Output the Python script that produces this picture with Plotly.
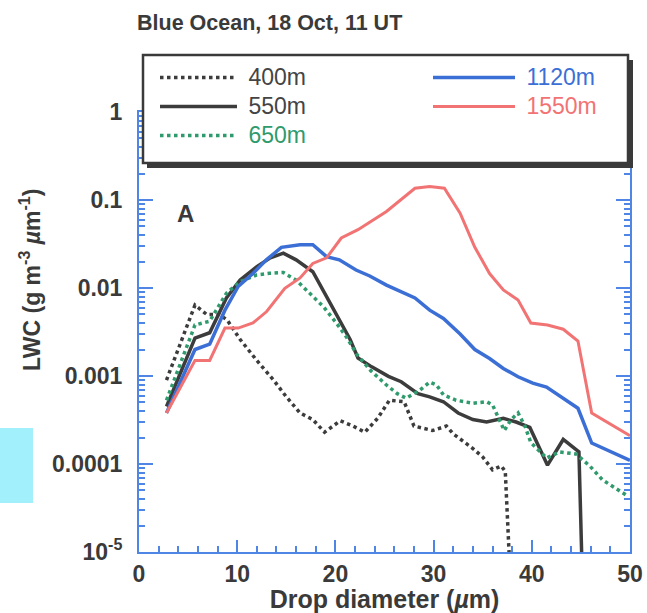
import plotly.graph_objects as go

# ---- data ----
x_400 = [2.8, 5.7, 6.9, 8.2, 9.0, 10.3, 12.0, 13.7, 15.0, 16.4, 17.7, 18.9, 20.5, 21.8, 23.0, 24.3, 25.5,
         27.0, 28.0, 29.9, 31.3, 32.0, 34.0, 35.0, 36.0, 36.9, 37.3, 37.9]
y_400 = [9e-4, 6.4e-3, 5.0e-3, 5.0e-3, 4.3e-3, 2.6e-3, 1.5e-3, 9e-4, 5.8e-4, 3.8e-4, 3.2e-4, 2.3e-4, 3.1e-4,
         2.7e-4, 2.3e-4, 3.3e-4, 5.3e-4, 5.1e-4, 2.7e-4, 2.4e-4, 2.7e-4, 2.2e-4, 1.5e-4, 1.2e-4, 8.6e-5,
         9.5e-5, 8.2e-5, 3e-6]

x_550 = [2.8, 5.7, 7.2, 8.9, 10.3, 12.0, 13.3, 14.7, 16.0, 17.7, 19.1, 20.4, 21.5, 22.3, 23.7, 25.4, 26.7,
         28.4, 29.6, 31.0, 32.5, 34.0, 35.4, 37.1, 38.4, 39.8, 41.6, 43.2, 44.8, 45.2]
y_550 = [4.5e-4, 2.7e-3, 3.1e-3, 7.7e-3, 0.0123, 0.0175, 0.0218, 0.0249, 0.0209, 0.0153, 0.0080, 0.0043,
         0.0026, 1.6e-3, 1.27e-3, 9.9e-4, 8.6e-4, 6.3e-4, 5.8e-4, 5.1e-4, 3.8e-4, 3.2e-4, 3.0e-4, 3.3e-4,
         3.0e-4, 2.6e-4, 9.7e-5, 1.9e-4, 1.37e-4, 3e-6]

x_650 = [2.8, 5.7, 7.2, 8.9, 10.3, 12.0, 13.3, 14.7, 16.0, 17.4, 18.8, 20.1, 21.1, 22.2, 23.6, 25.2, 26.3,
         27.2, 28.6, 29.6, 30.3, 31.0, 32.3, 34.0, 35.4, 36.0, 36.6, 37.2, 37.9, 38.6, 39.3, 39.9, 41.5,
         42.8, 44.5, 45.9, 47.2, 48.6, 49.8]
y_650 = [5.3e-4, 3.8e-3, 4.2e-3, 8.7e-3, 0.0118, 0.0141, 0.0147, 0.0150, 0.0123, 8.7e-3, 6.1e-3, 4.0e-3,
         2.8e-3, 1.75e-3, 1.15e-3, 7.9e-4, 6.3e-4, 5.6e-4, 6.9e-4, 8.5e-4, 7.9e-4, 6.1e-4, 5.3e-4, 4.9e-4,
         5.1e-4, 4.7e-4, 3.3e-4, 2.4e-4, 3.2e-4, 3.8e-4, 2.7e-4, 1.75e-4, 1.17e-4, 1.37e-4, 1.3e-4, 9.5e-5,
         6.6e-5, 5.2e-5, 4.3e-5]

x_1120 = [2.8, 5.7, 7.2, 8.75, 10.1, 11.6, 13.0, 14.5, 16.4, 17.7, 19.1, 20.4, 22.1, 23.5, 25.2, 26.6, 28.1,
          29.6, 31.0, 32.7, 34.2, 35.7, 37.1, 38.6, 40.1, 41.5, 43.2, 44.7, 46.1, 50.0]
y_1120 = [3.8e-4, 2.0e-3, 2.3e-3, 5.6e-3, 0.0104, 0.0146, 0.021, 0.029, 0.031, 0.031, 0.0227, 0.0209, 0.016,
          0.0137, 0.0108, 0.0091, 0.0077, 0.0056, 0.0045, 0.0030, 0.0020, 0.00158, 0.00122, 0.00098, 8.3e-4,
          7.5e-4, 5.6e-4, 4.3e-4, 1.73e-4, 1.1e-4]

x_1550 = [2.8, 5.7, 7.2, 8.75, 10.1, 11.6, 13.0, 14.85, 16.4, 17.7, 19.1, 20.6, 22.3, 25.2, 28.1, 29.6, 31.1,
          32.7, 34.2, 35.7, 37.1, 38.6, 39.9, 41.6, 43.2, 44.7, 46.1, 50.0]
y_1550 = [3.8e-4, 1.5e-3, 1.5e-3, 3.5e-3, 3.5e-3, 4.0e-3, 5.4e-3, 9.9e-3, 0.013, 0.019, 0.022, 0.037, 0.046,
          0.074, 0.136, 0.142, 0.136, 0.071, 0.029, 0.0146, 0.0095, 0.0073, 0.0040, 0.0038, 0.0034, 0.0025,
          3.8e-4, 2.1e-4]

y_tickvals = [1e-5, 1e-4, 1e-3, 1e-2, 1e-1, 1]
y_ticktext = ["10<sup>-5</sup>", "0.0001", "0.001", "0.01", "0.1", "1"]

# ---- styling ----
AX = "#4f86e6"
TXT = "#3a3a3a"
C_BLK = "#3c3c3c"
C_GRN = "#2f9a6c"
C_BLU = "#3b6fd6"
C_RED = "#f27373"
FONT = "Liberation Sans, Arial, sans-serif"

W, H = 647, 613
L, R, T, B = 139, 17, 112, 61
PW, PH = W - L - R, H - T - B


def px_to_paper(x, y):
    return (x - L) / PW, (H - B - y) / PH


def lname(txt, col):
    return '<span style="color:%s;font-size:23px">&nbsp;%s</span>' % (col, txt)


fig = go.Figure()
fig.add_trace(go.Scatter(x=x_400, y=y_400, mode="lines", name=lname("400m", "#444"),
                         line=dict(color=C_BLK, width=3.5, dash="dot"), legend="legend"))
fig.add_trace(go.Scatter(x=x_550, y=y_550, mode="lines", name=lname("550m", "#444"),
                         line=dict(color=C_BLK, width=3.5), legend="legend"))
fig.add_trace(go.Scatter(x=x_650, y=y_650, mode="lines", name=lname("650m", C_GRN),
                         line=dict(color=C_GRN, width=3.5, dash="dot"), legend="legend"))
fig.add_trace(go.Scatter(x=x_1120, y=y_1120, mode="lines", name=lname("1120m", C_BLU),
                         line=dict(color=C_BLU, width=3.5), legend="legend2"))
fig.add_trace(go.Scatter(x=x_1550, y=y_1550, mode="lines", name=lname("1550m", C_RED),
                         line=dict(color=C_RED, width=3), legend="legend2"))

minor_y = [k * 10.0 ** e for e in range(-5, 0) for k in range(2, 10)]

fig.update_xaxes(range=[0, 50], showgrid=False, zeroline=False, showline=True, linecolor=AX, linewidth=2,
                 mirror="ticks", ticks="inside", ticklen=12, tickwidth=2, tickcolor=AX, dtick=10, tick0=0,
                 tickfont=dict(family=FONT, size=23, color=TXT, weight="bold"),
                 minor=dict(dtick=2, tick0=0, ticks="inside", ticklen=6, tickwidth=1.5, tickcolor=AX),
                 title=dict(text="Drop diameter (<i>µ</i>m)", font=dict(family=FONT, size=25, color=TXT, weight="bold"),
                            standoff=4))
fig.update_yaxes(type="log", range=[-5, 0], showgrid=False, zeroline=False, showline=True, linecolor=AX,
                 linewidth=2, mirror="ticks", ticks="inside", ticklen=14, tickwidth=2, tickcolor=AX,
                 tickmode="array", tickvals=y_tickvals, ticktext=y_ticktext,
                 tickfont=dict(family=FONT, size=23, color=TXT, weight="bold"), ticklabelstandoff=10,
                 minor=dict(tickmode="array", tickvals=minor_y, ticks="inside", ticklen=6, tickwidth=1.5,
                            tickcolor=AX))

# legend box with shadow
bx0, by0 = px_to_paper(143, 163)
bx1, by1 = px_to_paper(628, 55)
sx0, sy0 = px_to_paper(147, 168)
sx1, sy1 = px_to_paper(633, 60)
cx0, cy0 = px_to_paper(0, 503)
cx1, cy1 = px_to_paper(33, 428)
fig.update_layout(shapes=[
    dict(type="rect", xref="paper", yref="paper", x0=sx0, y0=sy0, x1=sx1, y1=sy1,
         fillcolor="#3a3a3a", line=dict(width=0), layer="above"),
    dict(type="rect", xref="paper", yref="paper", x0=bx0, y0=by0, x1=bx1, y1=by1,
         fillcolor="white", line=dict(color="#3a3a3a", width=2.5), layer="above"),
    dict(type="rect", xref="paper", yref="paper", x0=cx0, y0=cy0, x1=cx1, y1=cy1,
         fillcolor="#a2f0fc", line=dict(width=0), layer="above"),
])

lx1, ly1 = px_to_paper(155, 58)
lx2, ly2 = px_to_paper(428, 58)
ytx, yty = px_to_paper(30, 280)
fig.update_layout(
    width=W, height=H, margin=dict(l=L, r=R, t=T, b=B, autoexpand=False),
    paper_bgcolor="white", plot_bgcolor="white",
    title=dict(text="<b>Blue Ocean, 18 Oct, 11 UT</b>", xref="container", yref="container",
               x=137 / W, xanchor="left", y=1 - 22 / H, yanchor="middle",
               font=dict(family=FONT, size=21.5, color=TXT)),
    legend=dict(x=lx1, y=ly1, xanchor="left", yanchor="top", bgcolor="rgba(0,0,0,0)", borderwidth=0,
                itemwidth=77, font=dict(family=FONT, size=20, color=TXT), tracegroupgap=0),
    legend2=dict(x=lx2, y=ly2, xanchor="left", yanchor="top", bgcolor="rgba(0,0,0,0)", borderwidth=0,
                 itemwidth=82, font=dict(family=FONT, size=20, color=TXT), tracegroupgap=0),
    annotations=[
        dict(text="<b>A</b>", x=4.7, y=-1.148, xref="x", yref="y", showarrow=False,
             font=dict(family=FONT, size=24, color=TXT)),
        dict(text="<b>LWC (g m<sup>-3</sup> <i>µ</i>m<sup>-1</sup>)</b>", x=ytx, y=yty, xref="paper",
             yref="paper", showarrow=False, textangle=-90, xanchor="center", yanchor="middle",
             font=dict(family=FONT, size=23, color=TXT)),
    ],
)

fig.write_html("out.html")
